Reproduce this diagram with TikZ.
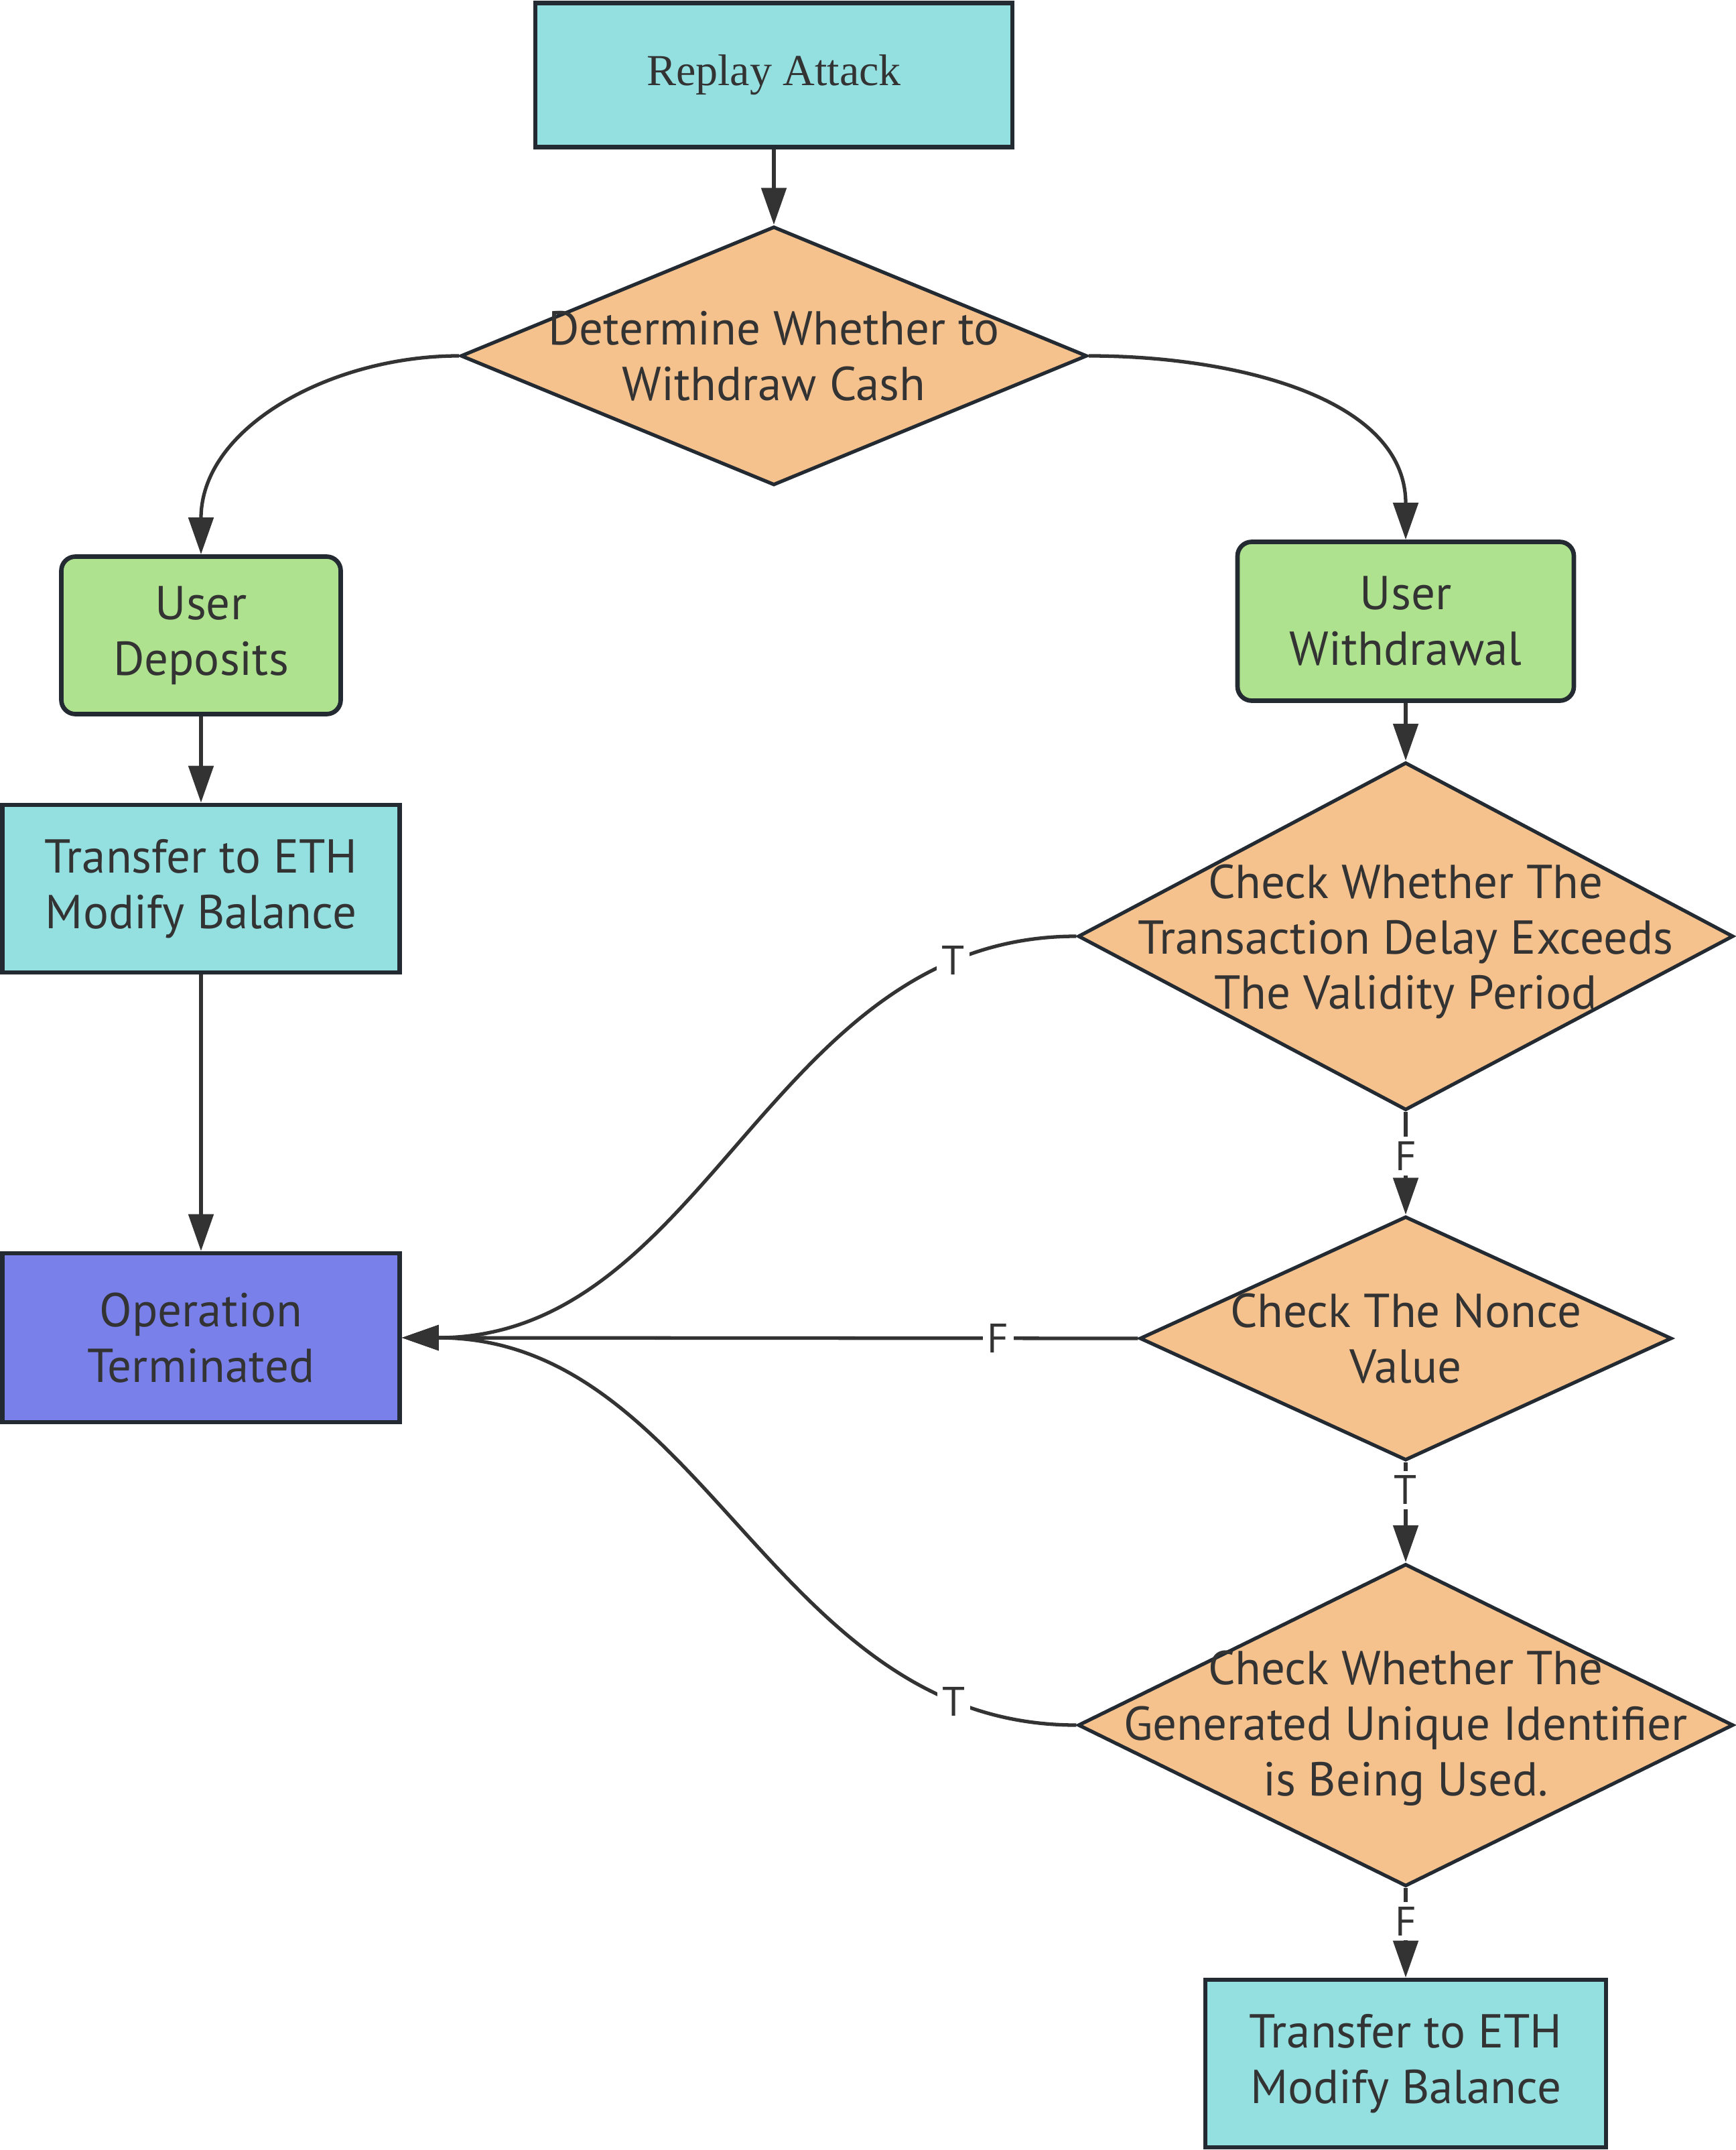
\documentclass[tikz,border=0pt]{standalone}
\usepackage{fontspec}
\setmainfont{PT Sans}
\newfontfamily\titleserif{Liberation Serif}
\usepackage{xcolor}
\definecolor{ink}{HTML}{333333}
\definecolor{edge}{HTML}{232A31}
\definecolor{cyanbox}{HTML}{94DFE0}
\definecolor{greenbox}{HTML}{AEE28E}
\definecolor{orangebox}{HTML}{F5C28E}
\definecolor{bluebox}{HTML}{7980EA}
\usetikzlibrary{arrows.meta, shapes.geometric}

\newcommand\boxfont{\fontsize{20.2pt}{23.6pt}\selectfont}
\newcommand\tffont{\fontsize{17.5pt}{20pt}\selectfont}

\begin{document}
\begin{tikzpicture}[>={Triangle[length=0.55cm, width=0.37cm]},
  process/.style={draw=edge, line width=1.9pt, inner sep=0pt,
    font=\boxfont, text=ink, align=center},
  decision/.style={diamond, draw=edge, fill=orangebox, line width=1.5pt,
    inner sep=0pt},
  dtext/.style={font=\boxfont, text=ink, align=center},
  flow/.style={->, line width=1.5pt, draw=ink},
  tf/.style={fill=white, font=\tffont, text=ink, inner sep=2pt}]

  \useasboundingbox (0,0) rectangle (25.90,-32.08);

  \node[process, fill=cyanbox, minimum width=7.12cm, minimum height=2.15cm,
        font=\titleserif\fontsize{18.8pt}{22pt}\selectfont] (attack)
        at (11.55,-1.12) {Replay Attack};

  \node[decision, minimum width=9.35cm, minimum height=3.86cm] (askcash)
        at (11.55,-5.31) {};
  \node[dtext] (askcasht) at (askcash) {Determine Whether to\\Withdraw Cash};

  % left branch
  \node[process, fill=greenbox, rounded corners=6pt,
        minimum width=4.17cm, minimum height=2.35cm] (deposit)
        at (3.00,-9.48) {User\\Deposits};
  \node[process, fill=cyanbox, minimum width=5.93cm, minimum height=2.50cm]
        (transferA) at (3.00,-13.26) {Transfer to ETH\\Modify Balance};
  \node[process, fill=bluebox, minimum width=5.93cm, minimum height=2.52cm]
        (stop) at (3.00,-19.96) {Operation\\Terminated};

  % right branch
  \node[process, fill=greenbox, rounded corners=6pt,
        minimum width=5.02cm, minimum height=2.37cm] (withdraw)
        at (20.98,-9.27) {User\\Withdrawal};

  \node[decision, minimum width=9.78cm, minimum height=5.19cm] (delay)
        at (20.98,-13.97) {};
  \node[dtext] (delayt) at ([yshift=-0.08cm]delay)
        {Check Whether The\\Transaction Delay Exceeds\\The Validity Period};

  \node[decision, minimum width=7.94cm, minimum height=3.64cm] (nonce)
        at (20.98,-19.97) {};
  \node[dtext] (noncet) at (nonce) {Check The Nonce\\Value};

  \node[decision, minimum width=9.78cm, minimum height=4.81cm] (uid)
        at (20.98,-25.74) {};
  \node[dtext] (uidt) at ([yshift=-0.05cm]uid)
        {Check Whether The\\Generated Unique Identifier\\is Being Used.};

  \node[process, fill=cyanbox, minimum width=5.98cm, minimum height=2.50cm]
        (transferB) at (20.98,-30.79) {Transfer to ETH\\Modify Balance};

  \draw[flow] (attack) -- (askcash);
  \draw[flow] (askcash.west) to[out=180, in=90] (deposit.north);
  \draw[flow] (askcash.east) to[out=0, in=90] (withdraw.north);
  \draw[flow] (deposit) -- (transferA);
  \draw[flow] (transferA) -- (stop);
  \draw[flow] (withdraw) -- (delay);

  \draw[flow] (delay) -- node[tf, pos=0.43] {F} (nonce);
  \draw[flow] (nonce) -- node[tf, pos=0.28] {T} (uid);
  \draw[flow] (uid) -- node[tf, pos=0.37] {F} (transferB);

  \draw[flow] (delay.west) to[out=180, in=0]
    node[tf, pos=0.15] {T} (stop.east);
  \draw[flow] (nonce.west) -- node[tf, pos=0.19] {F} (stop.east);
  \draw[flow] (uid.west) to[out=180, in=0]
    node[tf, pos=0.15] {T} (stop.east);

\end{tikzpicture}
\end{document}
